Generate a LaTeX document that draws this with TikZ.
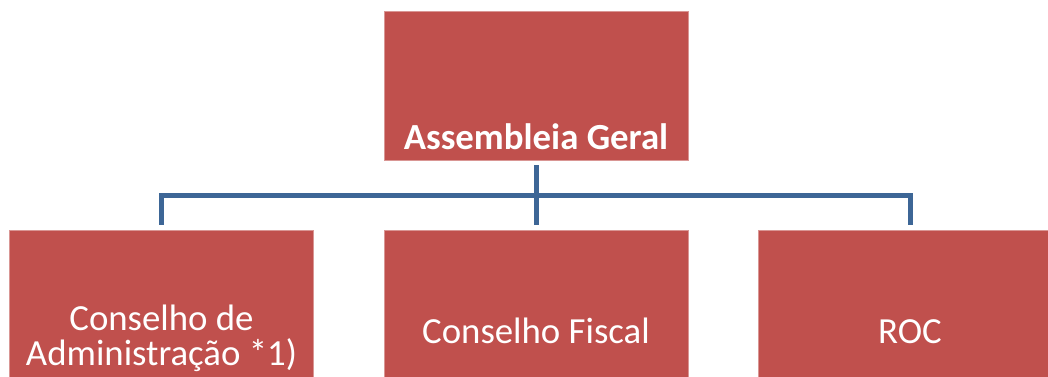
\documentclass[tikz,border=0pt]{standalone}
\usepackage{fontspec}
\setmainfont{Carlito}
\definecolor{boxred}{HTML}{C0504D}
\definecolor{boxedge}{HTML}{D99694}
\definecolor{connblue}{HTML}{3D6696}
\tikzset{
  orgbox/.style={rectangle, fill=boxred, draw=boxedge, line width=0.6bp, minimum width=304bp, inner sep=0pt},
  orglabel/.style={text=white, anchor=base, inner sep=0pt, font=\fontsize{36.8bp}{35bp}\selectfont},
  conn/.style={draw=connblue, line width=5bp}
}
\begin{document}
\begin{tikzpicture}[x=1bp,y=-1bp]
\useasboundingbox (0,0) rectangle (1048,376);
\clip (0,0) rectangle (1048,376);
\fill[white] (0,0) rectangle (1048,376);
% boxes
\node[orgbox, minimum height=149bp] (top) at (536,85.5) {};
\node[orgbox, minimum height=202bp] (left) at (161.5,331) {};
\node[orgbox, minimum height=202bp] (mid) at (536,331) {};
\node[orgbox, minimum height=202bp] (right) at (910,331) {};
% labels
\node[orglabel, font=\fontsize{36.8bp}{35bp}\selectfont\bfseries] (ttop) at (536,149) {Assembleia Geral};
\node[orglabel] (tleft1) at (161.5,330) {Conselho de};
\node[orglabel] (tleft2) at (161.5,365) {Administração *1)};
\node[orglabel] (tmid) at (536,343) {Conselho Fiscal};
\node[orglabel] (tright) at (910,343) {ROC};
% connectors
\coordinate (bus) at (536,195);
\draw[conn] ([yshift=-5bp]top.south) -- ([yshift=5bp]mid.north);
\draw[conn] ([yshift=5bp]left.north) -- (left.north |- bus) -- (right.north |- bus) -- ([yshift=5bp]right.north);
\end{tikzpicture}
\end{document}
